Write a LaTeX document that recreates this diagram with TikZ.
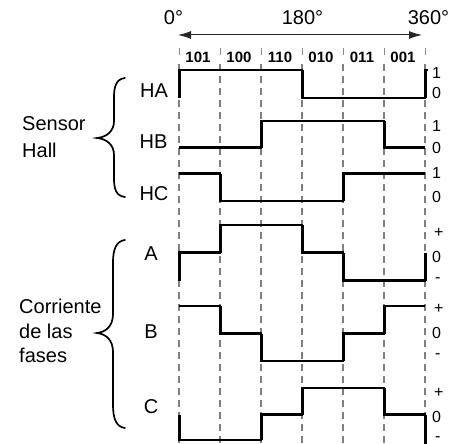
\documentclass[tikz,border=0pt]{standalone}
\usepackage{fontspec}
\setmainfont{Liberation Sans}
\usetikzlibrary{arrows.meta}
\begin{document}
\begin{tikzpicture}[x=1pt,y=-1pt,
  grid/.style={draw=black!50, line width=1.1pt, dash pattern=on 7pt off 5pt},
  wave/.style={line width=2.1pt, line join=miter},
  edge/.style={line width=3pt},
  lbl/.style={font=\fontsize{20}{24}\selectfont, inner sep=0pt},
  lvl/.style={font=\fontsize{16}{18}\selectfont, inner sep=0pt},
  code/.style={font=\bfseries\fontsize{15}{16}\selectfont, inner sep=0pt},
  deg/.style={font=\fontsize{20}{22}\selectfont, inner sep=0pt},
  tick/.style={draw=black!45, line width=0.8pt},
  brc/.style={line width=1.7pt, line cap=round}]
\useasboundingbox (0,0) rectangle (450,444);

% dashed sector boundaries and small ticks above them
\foreach \x in {179,220,261,302,343,384,425}{
  \draw[grid] (\x,64) -- (\x,444);
  \draw[tick] (\x,48) -- (\x,55);
}

% angle axis
\node[deg, anchor=base] (d0) at (173.5,25) {0°};
\node[deg, anchor=base] (d180) at (302.5,25) {180°};
\node[deg, anchor=base] (d360) at (428.5,25) {360°};
\coordinate (aL) at (178,35);
\coordinate (aR) at (422,35);
\draw[line width=1pt, black!85, {Latex[length=13pt,width=8pt]}-{Latex[length=13pt,width=8pt]}] (aL) -- (aR);

% hall codes per sector
\foreach \x/\c [count=\i] in {179/101,220/100,261/110,302/010,343/011,384/001}
  \node[code, anchor=base] (code\i) at (\x+19,62.5) {\c};

% hall sensor signals
\draw[wave] (179,98) -- (179,70) -- (302,70) -- (302,98) -- (425,98) -- (425,70) -- (428,70);
\draw[wave] (179,147.5) -- (261,147.5) -- (261,121) -- (384,121) -- (384,147.5) -- (425,147.5);
\draw[wave] (179,173.5) -- (220,173.5) -- (220,201) -- (343,201) -- (343,173.5) -- (425,173.5);
\foreach \x/\a/\b in {179/98/70, 302/70/98, 425/98/70, 261/147.5/121, 384/121/147.5, 220/173.5/201, 343/201/173.5}
  \draw[edge] (\x,\a) -- (\x,\b);

% phase currents
\draw[wave] (179,280.5) -- (179,252.5) -- (220,252.5) -- (220,225) -- (302,225) -- (302,252.5) -- (343,252.5) -- (343,280.5) -- (425,280.5) -- (425,252.5);
\draw[wave] (179,306) -- (220,306) -- (220,333.5) -- (261,333.5) -- (261,361) -- (343,361) -- (343,333.5) -- (384,333.5) -- (384,306) -- (425,306);
\draw[wave] (179,414.5) -- (179,440) -- (261,440) -- (261,414.5) -- (302,414.5) -- (302,388) -- (384,388) -- (384,414.5) -- (425,414.5) -- (425,444);
\foreach \x/\a/\b in {179/280.5/252.5, 220/252.5/225, 302/225/252.5, 343/252.5/280.5, 425/280.5/252.5,
                      220/306/333.5, 261/333.5/361, 343/361/333.5, 384/333.5/306,
                      179/414.5/440, 261/440/414.5, 302/414.5/388, 384/388/414.5, 425/414.5/444}
  \draw[edge] (\x,\a) -- (\x,\b);

% signal names
\node[lbl, anchor=base] (ha) at (154,97) {HA};
\node[lbl, anchor=base] (hb) at (153.5,148) {HB};
\node[lbl, anchor=base] (hc) at (154,200) {HC};
\node[lbl, anchor=base] (pa) at (151,260) {A};
\node[lbl, anchor=base] (pb) at (151,338) {B};
\node[lbl, anchor=base] (pc) at (151,413) {C};

% level marks
\node[lvl, anchor=base west] (ha1) at (432,78) {1};
\node[lvl, anchor=base west] (ha0) at (432,98.5) {0};
\node[lvl, anchor=base west] (hb1) at (432,131.5) {1};
\node[lvl, anchor=base west] (hb0) at (432,153) {0};
\node[lvl, anchor=base west] (hc1) at (432,178) {1};
\node[lvl, anchor=base west] (hc0) at (432,202) {0};
\node[lvl, anchor=base west] (pap) at (434,237) {+};
\node[lvl, anchor=base west] (pa0) at (432,262) {0};
\node[lvl, anchor=base west] (pam) at (435,282.5) {-};
\node[lvl, anchor=base west] (pbp) at (434,313.5) {+};
\node[lvl, anchor=base west] (pb0) at (432,338.5) {0};
\node[lvl, anchor=base west] (pbm) at (435,358.5) {-};
\node[lvl, anchor=base west] (pcp) at (434,397) {+};
\node[lvl, anchor=base west] (pc0) at (432,422) {0};
\node[lvl, anchor=base west] (pcm) at (435,441) {-};

% group labels
\node[lbl, anchor=base west] (sensor) at (22,130) {Sensor};
\node[lbl, anchor=base west] (hall) at (22,157) {Hall};
\node[lbl, anchor=base west] (corr) at (19,313) {Corriente};
\node[lbl, anchor=base west] (dela) at (19,338) {de las};
\node[lbl, anchor=base west] (fases) at (19,362) {fases};

% braces
\draw[brc] (125,78) .. controls (116,79) and (114,87) .. (114,97) -- (114,121)
  .. controls (114,131) and (107,137) .. (97,138)
  .. controls (107,139) and (114,145) .. (114,155) -- (114,178)
  .. controls (114,189) and (116,196) .. (125,197);
\draw[brc] (125,240) .. controls (116,241) and (113,250) .. (113,262) -- (113,314)
  .. controls (113,326) and (106,332) .. (97,333)
  .. controls (106,334) and (113,340) .. (113,352) -- (113,405)
  .. controls (113,418) and (116,427) .. (125,428);
\end{tikzpicture}
\end{document}
